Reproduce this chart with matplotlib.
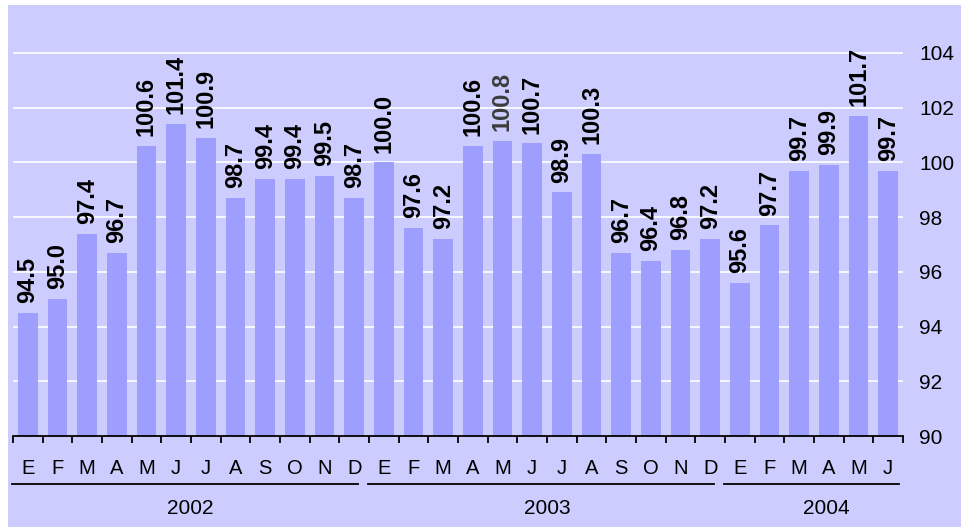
import numpy as np
import matplotlib.pyplot as plt
from matplotlib.patches import Rectangle
from matplotlib.transforms import blended_transform_factory

plt.rcParams['font.family'] = ['Liberation Sans', 'DejaVu Sans']

# monthly index, Jan 2002 - Jun 2004
months = ["E", "F", "M", "A", "M", "J", "J", "A", "S", "O", "N", "D"] * 2 + ["E", "F", "M", "A", "M", "J"]
values = [94.5, 95.0, 97.4, 96.7, 100.6, 101.4, 100.9, 98.7, 99.4, 99.4, 99.5, 98.7,
          100.0, 97.6, 97.2, 100.6, 100.8, 100.7, 98.9, 100.3, 96.7, 96.4, 96.8, 97.2,
          95.6, 97.7, 99.7, 99.9, 101.7, 99.7]
years = ["2002", "2003", "2004"]
year_start = [0, 12, 24]
year_len = [12, 12, 6]
grey_label = 16  # one label is drawn in grey in the original

bg = "#CCCCFF"
bar_col = "#9E9EFF"

W, H = 961, 527
fig = plt.figure(figsize=(W / 100, H / 100), dpi=100)
fig.patches.append(Rectangle((8 / W, 0), 1, (H - 5) / H, transform=fig.transFigure,
                             facecolor=bg, edgecolor="none", zorder=-10))

ax = fig.add_axes([13 / W, 91 / H, 890 / W, 431 / H])
ax.set_facecolor("none")

x = np.arange(len(values))
ax.bar(x, np.array(values) - 90, bottom=90, width=0.67, color=bar_col, zorder=2)

for i, v in enumerate(values):
    c = "#3c3c3c" if i == grey_label else "black"
    ax.annotate(f"{v:.1f}", (i, v), xytext=(0, 7), textcoords="offset points",
                rotation=90, ha="center", va="bottom", fontsize=17,
                fontweight="bold", color=c, zorder=3)

ax.set_xlim(-0.5, len(values) - 0.5)
ax.set_ylim(90, 90 + 431 / 27.36)
ax.set_yticks(np.arange(90, 105, 2))
ax.yaxis.tick_right()
ax.tick_params(axis="y", length=0, pad=11.5, labelsize=15)
ax.grid(axis="y", color="white", linewidth=1.2, zorder=1)
ax.set_axisbelow(True)

for s in ["top", "left", "right"]:
    ax.spines[s].set_visible(False)
ax.spines["bottom"].set_linewidth(1.3)
ax.spines["bottom"].set_zorder(4)
ax.set_xticks(np.arange(-0.5, len(values), 1))
ax.set_xticklabels([])
ax.tick_params(axis="x", direction="out", length=5, width=1.3)

tr = blended_transform_factory(ax.transData, ax.transAxes)
px = 1 / 431
for i, m in enumerate(months):
    ax.text(i, -32 * px, m, transform=tr, ha="center", va="center", fontsize=14.5)

year_x = [5.47, 17.5, 26.9]
for k, yr in enumerate(years):
    s = year_start[k] - 0.5 - 0.03
    e = year_start[k] + year_len[k] - 0.5 - (0.13 if k == 2 else 0.37)
    ax.plot([s, e], [-48 * px, -48 * px], transform=tr, color="black",
            linewidth=1.3, clip_on=False)
    ax.text(year_x[k], -72 * px, yr, transform=tr, ha="center", va="center", fontsize=15)

fig.savefig("out.png", dpi=100)
